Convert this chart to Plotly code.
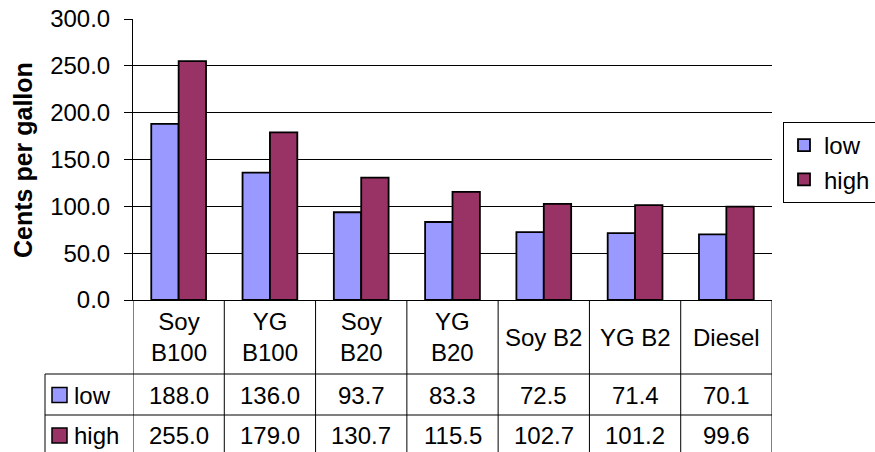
import plotly.graph_objects as go

# data
fuels = ["Soy B100", "YG B100", "Soy B20", "YG B20", "Soy B2", "YG B2", "Diesel"]
fuel_labels = ["Soy<br>B100", "YG<br>B100", "Soy<br>B20", "YG<br>B20", "Soy B2", "YG B2", "Diesel"]
low = [188.0, 136.0, 93.7, 83.3, 72.5, 71.4, 70.1]
high = [255.0, 179.0, 130.7, 115.5, 102.7, 101.2, 99.6]

W, H = 875, 452
FONT = "Liberation Sans, Arial, sans-serif"
FS = 24
LOW_C, HIGH_C = "#9999FF", "#993366"


def px_x(x):
    return x / W


def px_y(y):
    return (H - y) / H


fig = go.Figure()
fig.add_trace(go.Bar(x=fuels, y=low, name="low", legendgroup="low",
                     marker=dict(color=LOW_C, line=dict(color="black", width=1.8))))
fig.add_trace(go.Bar(x=fuels, y=high, name="high", legendgroup="high",
                     marker=dict(color=HIGH_C, line=dict(color="black", width=1.8))))

shapes = []
annotations = []

# table grid
line = dict(color="black", width=1)
for yy in [374, 415, 456]:
    shapes.append(dict(type="line", xref="paper", yref="paper", x0=px_x(45), x1=px_x(772),
                       y0=px_y(yy), y1=px_y(yy), line=line))
for i in range(len(fuels) + 1):
    shapes.append(dict(type="line", xref="x", yref="paper", x0=i - 0.5, x1=i - 0.5,
                       y0=px_y(300), y1=px_y(456), line=line))
shapes.append(dict(type="line", xref="paper", yref="paper", x0=px_x(45), x1=px_x(45),
                   y0=px_y(374), y1=px_y(456), line=line))

# header row with category names
for f, lab in zip(fuels, fuel_labels):
    annotations.append(dict(x=f, xref="x", y=px_y(337), yref="paper", text=lab, showarrow=False,
                            font=dict(size=FS), xanchor="center", yanchor="middle"))

# data rows
rows = [("low", low, LOW_C, 395), ("high", high, HIGH_C, 435.5)]
for name, vals, col, yc in rows:
    shapes.append(dict(type="rect", xref="paper", yref="paper", x0=px_x(52), x1=px_x(67),
                       y0=px_y(yc - 7.5), y1=px_y(yc + 7.5), fillcolor=col, line=dict(color="black", width=1.5)))
    annotations.append(dict(x=px_x(72), xref="paper", y=px_y(yc), yref="paper", text=name,
                            showarrow=False, font=dict(size=FS), xanchor="left", yanchor="middle"))
    for f, v in zip(fuels, vals):
        annotations.append(dict(x=f, xref="x", y=px_y(yc), yref="paper", text=f"{v:.1f}",
                                showarrow=False, font=dict(size=FS), xanchor="center", yanchor="middle"))

# y axis title
annotations.append(dict(x=px_x(23), xref="paper", y=px_y(160), yref="paper", text="<b>Cents per gallon</b>",
                        textangle=-90, showarrow=False, font=dict(size=25), xanchor="center", yanchor="middle"))

fig.update_layout(
    width=W, height=H, margin=dict(l=0, r=0, t=0, b=0, autoexpand=False),
    paper_bgcolor="white", plot_bgcolor="white",
    font=dict(family=FONT, size=FS, color="black"),
    barmode="group", bargap=0.4, bargroupgap=0,
    xaxis=dict(domain=[px_x(133), px_x(772)], range=[-0.5, 6.5], showticklabels=False, ticks="",
               showline=True, linecolor="black", linewidth=1, showgrid=False, zeroline=False,
               automargin=False),
    yaxis=dict(domain=[px_y(300), px_y(19)], range=[0, 300], dtick=50, tickformat=".1f",
               ticks="outside", ticklen=8, tickcolor="black", ticklabelstandoff=9,
               showline=True, linecolor="black", linewidth=1, automargin=False,
               showgrid=True, gridcolor="black", gridwidth=1, zeroline=False),
    legend=dict(x=px_x(783), y=px_y(122), xanchor="left", yanchor="top", bordercolor="black", borderwidth=1,
                font=dict(size=FS), bgcolor="white", tracegroupgap=0, itemwidth=30),
    shapes=shapes, annotations=annotations,
)

# drop the page's default body margin so the figure sits at the window corner
fig.write_html("out.html", config={"displayModeBar": False},
               post_script="document.body.style.margin='0';")
